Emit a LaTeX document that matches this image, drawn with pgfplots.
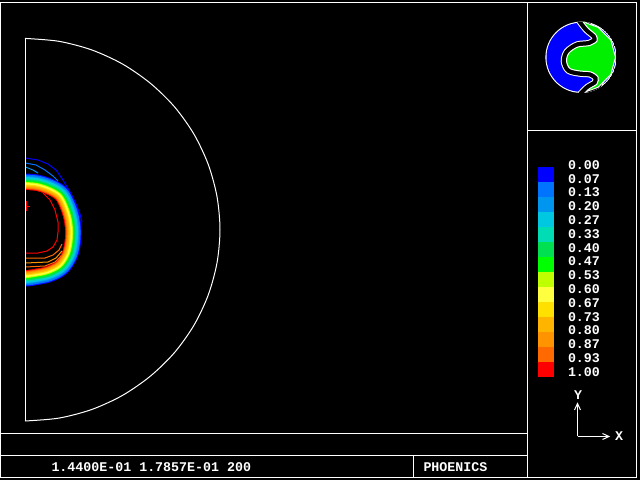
\documentclass[border=0pt]{standalone}
\usepackage{pgfplots}
\usepackage{pgfplotstable}
\pgfplotsset{compat=1.18}
\usepackage{fontspec}
\setmonofont{Liberation Mono}
\definecolor{c1}{HTML}{0000FF}
\definecolor{c2}{HTML}{0074FF}
\definecolor{c3}{HTML}{0096F0}
\definecolor{c4}{HTML}{00C8E0}
\definecolor{c5}{HTML}{00DCB4}
\definecolor{c6}{HTML}{00E050}
\definecolor{c7}{HTML}{00FF00}
\definecolor{c8}{HTML}{C0FF00}
\definecolor{c9}{HTML}{FFFF40}
\definecolor{c10}{HTML}{FFE000}
\definecolor{c11}{HTML}{FFB400}
\definecolor{c12}{HTML}{FF9400}
\definecolor{c13}{HTML}{FF6A00}
\definecolor{c14}{HTML}{FF0000}
\definecolor{lgreen}{HTML}{00F000}
\pgfplotstableread{
x y
25 190
35.48 190.88
45.75 194.06
55.41 199.59
60.51 209.5
63.64 219.65
65 230
64.6 240.61
62.24 251.5
56.11 261.11
46 266.37
35.35 268.64
25 270
14.65 268.64
4 266.37
-6.11 261.11
-12.24 251.5
-14.6 240.61
-15 230
-13.64 219.65
-10.51 209.5
-5.41 199.59
4.25 194.06
14.52 190.88
25 190
}\ringinner
\begin{document}
\begin{tikzpicture}
\useasboundingbox (0,0) rectangle (640bp,480bp);
\fill[black] (0,0) rectangle (640bp,480bp);
\begin{axis}[at={(0,0)}, anchor=south west, scale only axis,
  width=640bp, height=480bp, xmin=0, xmax=640, ymin=0, ymax=480,
  y dir=reverse, axis lines=none, clip=false,
  ring/.style={line join=round, line cap=round, smooth}]
% contour bands (outer = low value)
\addplot[ring, draw=c1, line width=33bp] table {\ringinner};
\addplot[ring, draw=c2, line width=31bp] table {\ringinner};
\addplot[ring, draw=c3, line width=28bp] table {\ringinner};
\addplot[ring, draw=c4, line width=26bp] table {\ringinner};
\addplot[ring, draw=c5, line width=23bp] table {\ringinner};
\addplot[ring, draw=c6, line width=21bp] table {\ringinner};
\addplot[ring, draw=c7, line width=18bp] table {\ringinner};
\addplot[ring, draw=c8, line width=16bp] table {\ringinner};
\addplot[ring, draw=c9, line width=14bp] table {\ringinner};
\addplot[ring, draw=c10, line width=11bp] table {\ringinner};
\addplot[ring, draw=c11, line width=9bp] table {\ringinner};
\addplot[ring, draw=c12, line width=6bp] table {\ringinner};
\addplot[ring, draw=c13, line width=4bp] table {\ringinner};
\addplot[ring, draw=c14, line width=2bp] table {\ringinner};
\addplot[smooth, fill=black, draw=none] table {\ringinner};
\fill[black] (axis cs:-40,130) rectangle (axis cs:24.6,320);
% contour lines
\addplot[c1, line width=1bp] coordinates {(25.5,158) (38,160) (48,164) (56,170) (63,180) (70,192) (76,204) (80,214) (82,222)};
\addplot[c2, line width=1bp] coordinates {(25.5,163) (36,165) (45,170) (53,176) (58,181)};
\addplot[c3, line width=1bp] coordinates {(25.5,167) (33,170) (38,173)};
\addplot[c14, line width=1bp] coordinates {(43,193) (50,200) (55,210) (58,222) (58,232) (57,240) (53,247) (47,251) (38,253) (25.5,253)};
\addplot[c14, line width=1bp] coordinates {(26,201) (26,211)};
\addplot[c14, line width=1bp] coordinates {(26,206) (30,206)};
\addplot[c13, line width=1bp] coordinates {(25.5,258) (45,258) (53,255) (59,250) (62,244)};
\addplot[c12, line width=1bp] coordinates {(25.5,263) (48,262) (56,258) (62,251)};
\addplot[c13, line width=1bp] coordinates {(25.5,267) (45,266) (55,262) (61,256)};
% domain outline
\addplot[white, line width=1bp] coordinates {(25,38.4) (25,421)};
\addplot[white, line width=1bp, smooth] coordinates {(25,38.4) (58.9,41.3) (91.7,49.9) (122.5,64.0) (150.3,83.2) (174.4,106.7) (193.9,134.05) (208.2,164.3) (217.0,196.5) (220,229.7) (217.0,262.9) (208.2,295.1) (193.9,325.35) (174.4,352.7) (150.3,376.2) (122.5,395.4) (91.7,409.5) (58.9,418.1) (25,421.0)};
\end{axis}
\begin{scope}[shift={(0,480bp)}, x=1bp, y=-1bp, line width=1bp]
% frame
\draw[white] (0.5,2.5) rectangle (636.5,477.5);
\draw[white] (527.5,2.5) -- (527.5,477.5);
\draw[white] (527.5,130.5) -- (636.5,130.5);
\draw[white] (0.5,433.5) -- (527.5,433.5);
\draw[white] (0.5,455.5) -- (527.5,455.5);
\draw[white] (413.5,455.5) -- (413.5,477.5);
% legend
\foreach \c [count=\k from 0] in {c1,c2,c3,c4,c5,c6,c7,c8,c9,c10,c11,c12,c13,c14}
  {\fill[\c] (538,{167+15*\k}) rectangle (554,{182+15*\k});}
\foreach \lab [count=\i from 0] in {0.00,0.07,0.13,0.20,0.27,0.33,0.40,0.47,0.53,0.60,0.67,0.73,0.80,0.87,0.93,1.00}
  {\node[white, anchor=west, inner sep=0pt, font=\fontsize{13.3bp}{14bp}\selectfont\ttfamily\bfseries] at (567.5,{165+13.8*\i}) {\lab};}
% bottom texts
\node[white, anchor=west, inner sep=0pt, font=\fontsize{13.3bp}{14bp}\selectfont\ttfamily\bfseries] at (51,467) {1.4400E-01 1.7857E-01 200};
\node[white, anchor=west, inner sep=0pt, font=\fontsize{13.3bp}{14bp}\selectfont\ttfamily\bfseries] at (423,467) {PHOENICS};
% axes indicator
\draw[white] (577.5,436.5) -- (577.5,404);
\draw[white] (574.5,410) -- (577.5,403.5) -- (580.5,410);
\draw[white] (577.5,436.5) -- (608.5,436.5);
\draw[white] (602.5,433.5) -- (609,436.5) -- (602.5,439.5);
\node[white, inner sep=0pt, font=\fontsize{13.3bp}{14bp}\selectfont\ttfamily\bfseries] at (578,395) {Y};
\node[white, inner sep=0pt, font=\fontsize{13.3bp}{14bp}\selectfont\ttfamily\bfseries] at (619,436) {X};
% logo
\begin{scope}
\clip (581,57.3) circle (35.6);
\fill[white] (581,57.3) circle (35.6);
\fill[c1] (581,57.3) circle (34.5);
\draw[white, line width=11.5bp] plot[smooth] coordinates {(581,19) (588,28) (596,35) (597,41) (590,45.5) (578,47) (569,53) (566.5,61) (570,68.5) (580,71) (591,72) (598,77) (597,84) (589,89) (582,96)};
\draw[black, line width=9.5bp] plot[smooth] coordinates {(581,19) (588,28) (596,35) (597,41) (590,45.5) (578,47) (569,53) (566.5,61) (570,68.5) (580,71) (591,72) (598,77) (597,84) (589,89) (582,96)};
\fill[lgreen, draw=white, line width=1bp] plot[smooth] coordinates {(581,19) (588,28) (596,35) (597,41) (590,45.5) (578,47) (569,53) (566.5,61) (570,68.5) (580,71) (591,72) (598,77) (597,84) (589,89) (582,96)}
  -- (587,91.3) -- (598.25,87.2) -- (610.9,74.55) -- (615.5,57.3) -- (610.9,40.05) -- (598.25,27.4) -- (587,23.3) -- cycle;
\end{scope}
\end{scope}
\end{tikzpicture}
\end{document}
